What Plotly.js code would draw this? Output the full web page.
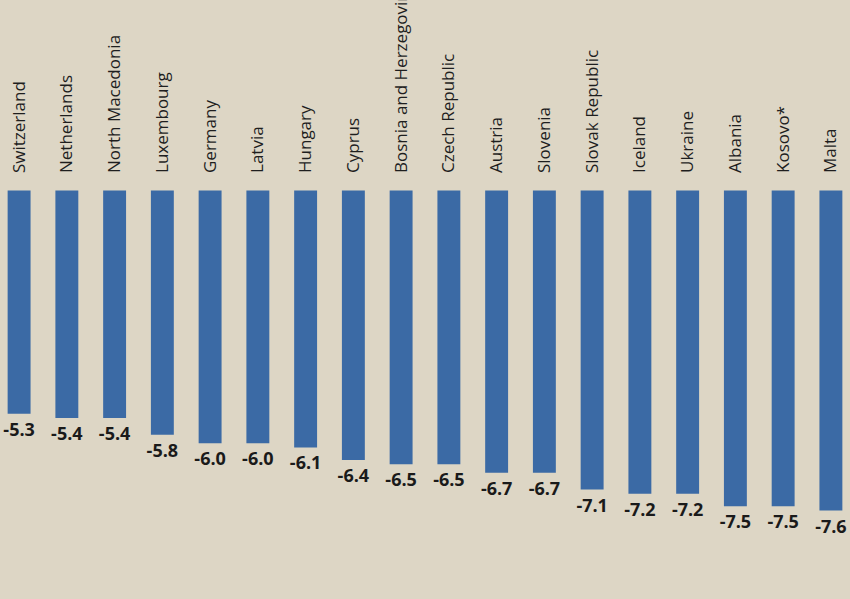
<!DOCTYPE html>
<html>
<head>
<meta charset="utf-8">
<script src="https://cdn.plot.ly/plotly-3.0.1.min.js"></script>
<style>
  html, body { margin: 0; padding: 0; background: #ddd6c5; }
  #plot { width: 850px; height: 599px; }
</style>
</head>
<body>
<div id="plot"></div>
<script>
// Countries as printed above the bars (left to right)
let countries = [
  "Switzerland", "Netherlands", "North Macedonia", "Luxembourg", "Germany",
  "Latvia", "Hungary", "Cyprus", "Bosnia and Herzegovina", "Czech Republic",
  "Austria", "Slovenia", "Slovak Republic", "Iceland", "Ukraine",
  "Albania", "Kosovo*", "Malta"
];

// Values printed under the bars (Switzerland and Malta are cut off in the photo, estimated)
let values = [
  -5.3, -5.4, -5.4, -5.8, -6.0,
  -6.0, -6.1, -6.4, -6.5, -6.5,
  -6.7, -6.7, -7.1, -7.2, -7.2,
  -7.5, -7.5, -7.6
];

let trace = {
  x: countries,
  y: values,
  type: "bar",
  width: 0.48,
  marker: { color: "#3b6aa5" },
  text: values.map(v => v.toFixed(1)),
  textposition: "outside",
  constraintext: "none",
  cliponaxis: false,
  textfont: { family: "Open Sans", size: 18, color: "#1a1a1a", weight: "bold" },
  hoverinfo: "x+y"
};

let layout = {
  width: 850,
  height: 599,
  margin: { l: 0, r: 0, t: 180, b: 0 },
  paper_bgcolor: "#ddd6c5",
  plot_bgcolor: "#ddd6c5",
  showlegend: false,
  xaxis: {
    side: "top",
    tickangle: -90,
    range: [-0.4, 17.4],
    showline: false,
    showgrid: false,
    zeroline: false,
    ticks: "",
    ticklabelstandoff: 6,
    tickfont: { family: "Open Sans", size: 17, color: "#1e1e1e" }
  },
  yaxis: {
    range: [-9.7, 0.25],
    visible: false,
    showgrid: false,
    zeroline: false
  }
};

Plotly.newPlot("plot", [trace], layout, { displayModeBar: false, staticPlot: true });
</script>
</body>
</html>
